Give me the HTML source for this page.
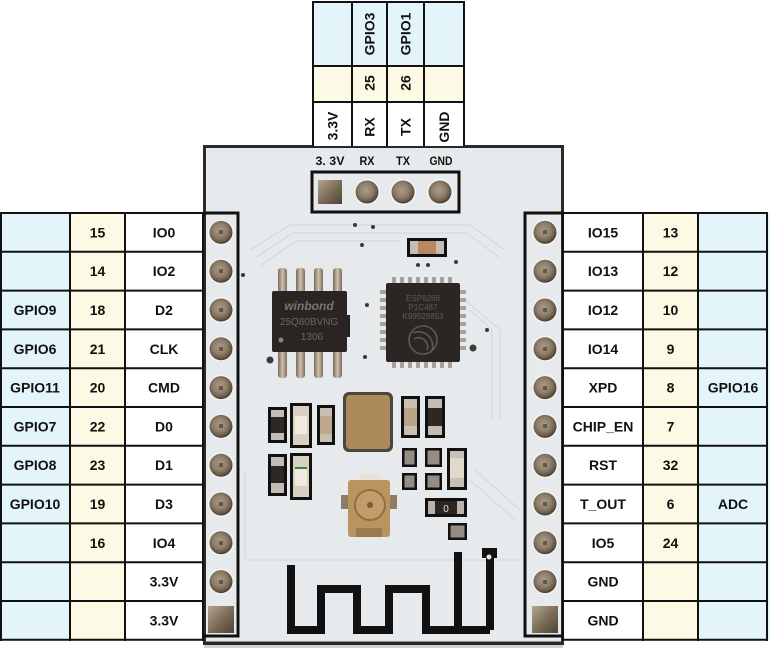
<!DOCTYPE html>
<html><head><meta charset="utf-8"><style>
html,body{margin:0;padding:0;background:#fff;}
svg{display:block;}
text{font-family:"Liberation Sans",Arial,sans-serif;font-weight:bold;fill:#111;}
</style></head><body>
<svg width="770" height="648" viewBox="0 0 770 648" xmlns="http://www.w3.org/2000/svg">
<defs>
<radialGradient id="pin" cx="0.45" cy="0.42" r="0.6">
<stop offset="0" stop-color="#a99b89"/>
<stop offset="0.5" stop-color="#8f7f6b"/>
<stop offset="0.8" stop-color="#6b5b49"/>
<stop offset="1" stop-color="#3d332a"/>
</radialGradient>
<linearGradient id="sq" x1="0" y1="0" x2="1" y2="1">
<stop offset="0" stop-color="#b3a794"/>
<stop offset="0.5" stop-color="#7e6e5a"/>
<stop offset="1" stop-color="#4e4236"/>
</linearGradient>
<linearGradient id="leg" x1="0" y1="0" x2="1" y2="0">
<stop offset="0" stop-color="#7a6a58"/>
<stop offset="0.5" stop-color="#cfc2ae"/>
<stop offset="1" stop-color="#7d6d5b"/>
</linearGradient>
</defs>

<!-- board -->
<rect x="204" y="146" width="359" height="497" fill="#e7eaec"/>
<rect x="204" y="643" width="359" height="5" fill="#d8d0c8"/>
<line x1="204" y1="643" x2="563" y2="643" stroke="#3b2f2a" stroke-width="3"/>
<rect x="204.5" y="146.5" width="358" height="497" fill="none" stroke="#2a2a2a" stroke-width="3"/>

<!-- faint traces -->
<g stroke="#d3d8dc" stroke-width="1.2" fill="none" opacity="0.9">
<path d="M250,250 L290,225 L470,225 L505,250"/>
<path d="M255,258 L293,233 L467,233 L500,258"/>
<path d="M260,266 L296,241 L400,241"/>
<path d="M465,300 L500,330 L500,420"/>
<path d="M470,310 L492,330 L492,420"/>
<path d="M245,470 L245,560 L520,560"/>
<path d="M470,480 L515,520"/>
<path d="M475,470 L520,510"/>
</g>

<!-- silkscreen boxes -->
<path d="M204,213 H238 V636 H204" fill="none" stroke="#111" stroke-width="3"/>
<path d="M563,213 H525 V636 H563" fill="none" stroke="#111" stroke-width="3"/>
<rect x="312" y="172" width="147" height="40" fill="none" stroke="#111" stroke-width="3"/>

<!-- header labels -->
<text x="330" y="165" font-size="12" text-anchor="middle" textLength="29" lengthAdjust="spacingAndGlyphs">3. 3V</text>
<text x="367" y="165" font-size="12" text-anchor="middle" textLength="15" lengthAdjust="spacingAndGlyphs">RX</text>
<text x="403" y="165" font-size="12" text-anchor="middle" textLength="14" lengthAdjust="spacingAndGlyphs">TX</text>
<text x="441" y="165" font-size="12" text-anchor="middle" textLength="23" lengthAdjust="spacingAndGlyphs">GND</text>

<!-- header pins -->
<rect x="318" y="180" width="24" height="24" fill="url(#sq)"/>
<g fill="#f4f4f2"><circle cx="367" cy="192" r="13"/><circle cx="403" cy="192" r="13"/><circle cx="440" cy="192" r="13"/></g>
<circle cx="367" cy="192" r="11.5" fill="url(#pin)"/>
<circle cx="403" cy="192" r="11.5" fill="url(#pin)"/>
<circle cx="440" cy="192" r="11.5" fill="url(#pin)"/>

<!-- side pins -->
<g fill="#f1f2f2">
<circle cx="221" cy="232.4" r="13"/><circle cx="221" cy="271.2" r="13"/><circle cx="221" cy="310" r="13"/>
<circle cx="221" cy="348.8" r="13"/><circle cx="221" cy="387.6" r="13"/><circle cx="221" cy="426.4" r="13"/>
<circle cx="221" cy="465.2" r="13"/><circle cx="221" cy="504" r="13"/><circle cx="221" cy="542.8" r="13"/>
<circle cx="221" cy="581.6" r="13"/>
<circle cx="545" cy="232.4" r="13"/><circle cx="545" cy="271.2" r="13"/><circle cx="545" cy="310" r="13"/>
<circle cx="545" cy="348.8" r="13"/><circle cx="545" cy="387.6" r="13"/><circle cx="545" cy="426.4" r="13"/>
<circle cx="545" cy="465.2" r="13"/><circle cx="545" cy="504" r="13"/><circle cx="545" cy="542.8" r="13"/>
<circle cx="545" cy="581.6" r="13"/>
</g>
<g fill="url(#pin)">
<circle cx="221" cy="232.4" r="11.5"/><circle cx="221" cy="271.2" r="11.5"/><circle cx="221" cy="310" r="11.5"/>
<circle cx="221" cy="348.8" r="11.5"/><circle cx="221" cy="387.6" r="11.5"/><circle cx="221" cy="426.4" r="11.5"/>
<circle cx="221" cy="465.2" r="11.5"/><circle cx="221" cy="504" r="11.5"/><circle cx="221" cy="542.8" r="11.5"/>
<circle cx="221" cy="581.6" r="11.5"/>
<circle cx="545" cy="232.4" r="11.5"/><circle cx="545" cy="271.2" r="11.5"/><circle cx="545" cy="310" r="11.5"/>
<circle cx="545" cy="348.8" r="11.5"/><circle cx="545" cy="387.6" r="11.5"/><circle cx="545" cy="426.4" r="11.5"/>
<circle cx="545" cy="465.2" r="11.5"/><circle cx="545" cy="504" r="11.5"/><circle cx="545" cy="542.8" r="11.5"/>
<circle cx="545" cy="581.6" r="11.5"/>
</g>
<rect x="208" y="606" width="26" height="27" fill="url(#sq)"/>
<rect x="532" y="606" width="26" height="27" fill="url(#sq)"/>
<g fill="#4a3f35" opacity="0.7">
<rect x="219" y="230" width="4" height="4"/><rect x="219" y="269" width="4" height="4"/><rect x="219" y="308" width="4" height="4"/>
<rect x="219" y="347" width="4" height="4"/><rect x="219" y="386" width="4" height="4"/><rect x="219" y="424" width="4" height="4"/>
<rect x="219" y="463" width="4" height="4"/><rect x="219" y="502" width="4" height="4"/><rect x="219" y="541" width="4" height="4"/>
<rect x="219" y="580" width="4" height="4"/>
<rect x="543" y="230" width="4" height="4"/><rect x="543" y="269" width="4" height="4"/><rect x="543" y="308" width="4" height="4"/>
<rect x="543" y="347" width="4" height="4"/><rect x="543" y="386" width="4" height="4"/><rect x="543" y="424" width="4" height="4"/>
<rect x="543" y="463" width="4" height="4"/><rect x="543" y="502" width="4" height="4"/><rect x="543" y="541" width="4" height="4"/>
<rect x="543" y="580" width="4" height="4"/>
</g>

<!-- vias -->
<g fill="#3a3a3a">
<circle cx="355" cy="225" r="2"/><circle cx="373" cy="227" r="2"/><circle cx="362" cy="245" r="2"/>
<circle cx="418" cy="265" r="2"/><circle cx="428" cy="265" r="2"/><circle cx="456" cy="262" r="2"/>
<circle cx="270" cy="360" r="3.5"/><circle cx="473" cy="348" r="3.5"/><circle cx="243" cy="275" r="2"/>
<circle cx="367" cy="305" r="2"/><circle cx="365" cy="357" r="2"/><circle cx="487" cy="330" r="2"/>
</g>

<!-- capacitor top -->
<rect x="407" y="238" width="40" height="19" fill="#111"/>
<rect x="410" y="241" width="34" height="13" fill="#c3bdb5"/>
<rect x="418" y="241" width="18" height="13" fill="#b7895f"/>

<!-- winbond chip -->
<g fill="url(#leg)">
<rect x="278" y="268" width="9" height="25" rx="3"/><rect x="296" y="268" width="9" height="25" rx="3"/>
<rect x="314" y="268" width="9" height="25" rx="3"/><rect x="333" y="268" width="9" height="25" rx="3"/>
<rect x="278" y="350" width="9" height="28" rx="3"/><rect x="296" y="350" width="9" height="28" rx="3"/>
<rect x="314" y="350" width="9" height="28" rx="3"/><rect x="333" y="350" width="9" height="28" rx="3"/>
</g>
<rect x="346" y="315" width="4" height="22" fill="#222"/>
<rect x="272" y="291" width="75" height="61" rx="2" fill="#2a2422"/>
<text x="309" y="310" font-size="12" text-anchor="middle" font-style="italic" style="fill:#7b7470">winbond</text>
<text x="309" y="325" font-size="10" text-anchor="middle" style="fill:#6d6662;font-weight:normal">25Q80BVNG</text>
<text x="312" y="340" font-size="10" text-anchor="middle" style="fill:#6d6662;font-weight:normal">1306</text>
<circle cx="281" cy="340" r="2.5" fill="#8a8480"/>

<!-- ESP chip -->
<g fill="#a8a199">
<rect x="392" y="277" width="4" height="8"/><rect x="400" y="277" width="4" height="8"/><rect x="408" y="277" width="4" height="8"/><rect x="416" y="277" width="4" height="8"/>
<rect x="424" y="277" width="4" height="8"/><rect x="432" y="277" width="4" height="8"/><rect x="440" y="277" width="4" height="8"/><rect x="448" y="277" width="4" height="8"/>
<rect x="392" y="360" width="4" height="8"/><rect x="400" y="360" width="4" height="8"/><rect x="408" y="360" width="4" height="8"/><rect x="416" y="360" width="4" height="8"/>
<rect x="424" y="360" width="4" height="8"/><rect x="432" y="360" width="4" height="8"/><rect x="440" y="360" width="4" height="8"/><rect x="448" y="360" width="4" height="8"/>
<rect x="380" y="290" width="8" height="4"/><rect x="380" y="298" width="8" height="4"/><rect x="380" y="306" width="8" height="4"/><rect x="380" y="314" width="8" height="4"/>
<rect x="380" y="322" width="8" height="4"/><rect x="380" y="330" width="8" height="4"/><rect x="380" y="338" width="8" height="4"/><rect x="380" y="346" width="8" height="4"/>
<rect x="458" y="290" width="8" height="4"/><rect x="458" y="298" width="8" height="4"/><rect x="458" y="306" width="8" height="4"/><rect x="458" y="314" width="8" height="4"/>
<rect x="458" y="322" width="8" height="4"/><rect x="458" y="330" width="8" height="4"/><rect x="458" y="338" width="8" height="4"/><rect x="458" y="346" width="8" height="4"/>
</g>
<rect x="386" y="283" width="74" height="79" rx="2" fill="#2b2523"/>
<text x="423" y="301" font-size="8" text-anchor="middle" style="fill:#5f5854;font-weight:normal">ESP8266</text>
<text x="423" y="310" font-size="8" text-anchor="middle" style="fill:#5f5854;font-weight:normal">P1C487</text>
<text x="423" y="319" font-size="8" text-anchor="middle" style="fill:#5f5854;font-weight:normal">K99928853</text>
<g fill="none" stroke="#5f5854" stroke-width="1.6">
<circle cx="423" cy="340" r="14"/>
<path d="M413,333 A14,14 0 0 1 432,350"/>
<path d="M414,339 A9,9 0 0 1 427,350"/>
</g>

<!-- crystal -->
<rect x="343" y="392" width="50" height="60" rx="6" fill="#4d4640"/>
<rect x="346" y="395" width="44" height="54" rx="4" fill="#ad8a5a"/>

<!-- small components left -->
<rect x="268" y="407" width="19" height="36" fill="#111"/>
<rect x="271" y="410" width="13" height="30" fill="#c2bcb4"/>
<rect x="271" y="417" width="13" height="16" fill="#2c2826"/>
<rect x="290" y="403" width="22" height="45" fill="#111"/>
<rect x="293" y="406" width="16" height="39" fill="#d8d0c2"/>
<rect x="295" y="416" width="12" height="18" fill="#efeae0"/>
<rect x="317" y="405" width="18" height="40" fill="#111"/>
<rect x="320" y="408" width="12" height="34" fill="#c8bfb2"/>
<rect x="320" y="416" width="12" height="18" fill="#bda88c"/>
<rect x="268" y="454" width="19" height="42" fill="#111"/>
<rect x="271" y="457" width="13" height="36" fill="#c2bcb4"/>
<rect x="271" y="466" width="13" height="17" fill="#2c2826"/>
<rect x="290" y="453" width="22" height="47" fill="#111"/>
<rect x="293" y="456" width="16" height="41" fill="#d8d0c2"/>
<rect x="295" y="468" width="12" height="18" fill="#efeae0"/>
<rect x="295" y="467" width="12" height="2" fill="#2f8a3a"/>

<!-- small components right -->
<rect x="401" y="396" width="19" height="42" fill="#111"/>
<rect x="404" y="399" width="13" height="36" fill="#c8c0b4"/>
<rect x="404" y="408" width="13" height="18" fill="#b9a286"/>
<rect x="425" y="396" width="20" height="42" fill="#111"/>
<rect x="428" y="399" width="14" height="36" fill="#c2bcb4"/>
<rect x="428" y="408" width="14" height="18" fill="#2c2826"/>
<g>
<rect x="402" y="448" width="15" height="19" fill="#111"/><rect x="404.5" y="450.5" width="10" height="14" fill="#958d84"/>
<rect x="425" y="448" width="17" height="19" fill="#111"/><rect x="427.5" y="450.5" width="12" height="14" fill="#958d84"/>
<rect x="402" y="473" width="15" height="17" fill="#111"/><rect x="404.5" y="475.5" width="10" height="12" fill="#958d84"/>
<rect x="425" y="473" width="17" height="17" fill="#111"/><rect x="427.5" y="475.5" width="12" height="12" fill="#958d84"/>
</g>
<rect x="447" y="448" width="20" height="42" fill="#111"/>
<rect x="450" y="451" width="14" height="36" fill="#c8c0b4"/>
<rect x="450" y="458" width="14" height="20" fill="#e0d9cc"/>
<rect x="425" y="498" width="42" height="19" fill="#111"/>
<rect x="428" y="501" width="36" height="13" fill="#b9b3ab"/>
<rect x="435" y="501" width="22" height="13" fill="#2a2624"/>
<text x="446" y="512" font-size="10" text-anchor="middle" style="fill:#ddd;font-weight:normal">0</text>
<rect x="448" y="523" width="19" height="17" fill="#111"/>
<rect x="450.5" y="525.5" width="14" height="12" fill="#958d84"/>

<!-- U.FL connector -->
<rect x="341" y="495" width="9" height="14" fill="#8f7c64"/>
<rect x="388" y="495" width="9" height="14" fill="#8f7c64"/>
<rect x="359" y="474" width="22" height="8" fill="#e8e2d8"/>
<rect x="348" y="480" width="42" height="57" rx="3" fill="#b8955f"/>
<rect x="356" y="528" width="26" height="9" fill="#9a7a4e"/>
<circle cx="370" cy="505" r="15" fill="#c09d6a" stroke="#8e6f48" stroke-width="2"/>
<circle cx="370" cy="505" r="3" fill="#7a5c3a"/>

<!-- antenna -->
<g fill="none" stroke="#111" stroke-width="8" stroke-linejoin="miter">
<path d="M291,565 V630 H321 V589 H357 V630 H389 V589 H426 V630 H490"/>
<path d="M458,552 V630"/>
<path d="M490,552 V630"/>
</g>
<rect x="482" y="548" width="15" height="10" fill="#111"/>
<circle cx="489" cy="557" r="2.5" fill="#e6e6e6"/>

<!-- ========== TOP TABLE ========== -->
<rect x="313" y="2" width="151" height="64" fill="#e3f5fa"/>
<rect x="313" y="66" width="151" height="36" fill="#fcf9e4"/>
<rect x="313" y="102" width="151" height="44" fill="#ffffff"/>
<g stroke="#111" stroke-width="2" fill="none">
<line x1="313" y1="2" x2="464" y2="2"/>
<line x1="313" y1="66" x2="464" y2="66"/>
<line x1="313" y1="102" x2="464" y2="102"/>
<line x1="313" y1="1" x2="313" y2="146"/>
<line x1="352" y1="1" x2="352" y2="146"/>
<line x1="387" y1="1" x2="387" y2="146"/>
<line x1="424" y1="1" x2="424" y2="146"/>
<line x1="464" y1="1" x2="464" y2="146"/>
</g>
<g font-size="14" text-anchor="middle">
<text transform="translate(374.5,34) rotate(-90)">GPIO3</text>
<text transform="translate(410.5,34) rotate(-90)">GPIO1</text>
<text transform="translate(374.5,83) rotate(-90)">25</text>
<text transform="translate(410.5,83) rotate(-90)">26</text>
<text transform="translate(337.5,126) rotate(-90)">3.3V</text>
<text transform="translate(374.5,127) rotate(-90)">RX</text>
<text transform="translate(410.5,127) rotate(-90)">TX</text>
<text transform="translate(449,127) rotate(-90)">GND</text>
</g>

<!-- ========== LEFT TABLE ========== -->
<rect x="0" y="213" width="70" height="427" fill="#e3f5fa"/>
<rect x="70" y="213" width="55" height="427" fill="#fcf9e4"/>
<rect x="125" y="213" width="78" height="427" fill="#ffffff"/>
<g stroke="#111" stroke-width="2" fill="none">
<line x1="0" y1="213" x2="203" y2="213"/><line x1="0" y1="251.8" x2="203" y2="251.8"/>
<line x1="0" y1="290.6" x2="203" y2="290.6"/><line x1="0" y1="329.4" x2="203" y2="329.4"/>
<line x1="0" y1="368.2" x2="203" y2="368.2"/><line x1="0" y1="407" x2="203" y2="407"/>
<line x1="0" y1="445.8" x2="203" y2="445.8"/><line x1="0" y1="484.6" x2="203" y2="484.6"/>
<line x1="0" y1="523.4" x2="203" y2="523.4"/><line x1="0" y1="562.2" x2="203" y2="562.2"/>
<line x1="0" y1="601" x2="203" y2="601"/><line x1="0" y1="639.8" x2="203" y2="639.8"/>
<line x1="1" y1="212" x2="1" y2="641"/>
<line x1="70" y1="212" x2="70" y2="641"/>
<line x1="125" y1="212" x2="125" y2="641"/>
<line x1="203" y1="212" x2="203" y2="641"/>
</g>
<g font-size="14" text-anchor="middle">
<text x="97.5" y="237.4">15</text><text x="164" y="237.4">IO0</text>
<text x="97.5" y="276.2">14</text><text x="164" y="276.2">IO2</text>
<text x="35" y="315">GPIO9</text><text x="97.5" y="315">18</text><text x="164" y="315">D2</text>
<text x="35" y="353.8">GPIO6</text><text x="97.5" y="353.8">21</text><text x="164" y="353.8">CLK</text>
<text x="35" y="392.6">GPIO11</text><text x="97.5" y="392.6">20</text><text x="164" y="392.6">CMD</text>
<text x="35" y="431.4">GPIO7</text><text x="97.5" y="431.4">22</text><text x="164" y="431.4">D0</text>
<text x="35" y="470.2">GPIO8</text><text x="97.5" y="470.2">23</text><text x="164" y="470.2">D1</text>
<text x="35" y="509">GPIO10</text><text x="97.5" y="509">19</text><text x="164" y="509">D3</text>
<text x="97.5" y="547.8">16</text><text x="164" y="547.8">IO4</text>
<text x="164" y="586.6">3.3V</text>
<text x="164" y="625.4">3.3V</text>
</g>

<!-- ========== RIGHT TABLE ========== -->
<rect x="563" y="213" width="80" height="427" fill="#ffffff"/>
<rect x="643" y="213" width="55" height="427" fill="#fcf9e4"/>
<rect x="698" y="213" width="72" height="427" fill="#e3f5fa"/>
<g stroke="#111" stroke-width="2" fill="none">
<line x1="563" y1="213" x2="768" y2="213"/><line x1="563" y1="251.8" x2="768" y2="251.8"/>
<line x1="563" y1="290.6" x2="768" y2="290.6"/><line x1="563" y1="329.4" x2="768" y2="329.4"/>
<line x1="563" y1="368.2" x2="768" y2="368.2"/><line x1="563" y1="407" x2="768" y2="407"/>
<line x1="563" y1="445.8" x2="768" y2="445.8"/><line x1="563" y1="484.6" x2="768" y2="484.6"/>
<line x1="563" y1="523.4" x2="768" y2="523.4"/><line x1="563" y1="562.2" x2="768" y2="562.2"/>
<line x1="563" y1="601" x2="768" y2="601"/><line x1="563" y1="639.8" x2="768" y2="639.8"/>
<line x1="563" y1="212" x2="563" y2="641"/>
<line x1="643" y1="212" x2="643" y2="641"/>
<line x1="698" y1="212" x2="698" y2="641"/>
<line x1="767" y1="212" x2="767" y2="641"/>
</g>
<g font-size="14" text-anchor="middle">
<text x="603" y="237.4">IO15</text><text x="670.5" y="237.4">13</text>
<text x="603" y="276.2">IO13</text><text x="670.5" y="276.2">12</text>
<text x="603" y="315">IO12</text><text x="670.5" y="315">10</text>
<text x="603" y="353.8">IO14</text><text x="670.5" y="353.8">9</text>
<text x="603" y="392.6">XPD</text><text x="670.5" y="392.6">8</text><text x="733" y="392.6">GPIO16</text>
<text x="603" y="431.4">CHIP_EN</text><text x="670.5" y="431.4">7</text>
<text x="603" y="470.2">RST</text><text x="670.5" y="470.2">32</text>
<text x="603" y="509">T_OUT</text><text x="670.5" y="509">6</text><text x="733" y="509">ADC</text>
<text x="603" y="547.8">IO5</text><text x="670.5" y="547.8">24</text>
<text x="603" y="586.6">GND</text>
<text x="603" y="625.4">GND</text>
</g>
</svg>
</body></html>
